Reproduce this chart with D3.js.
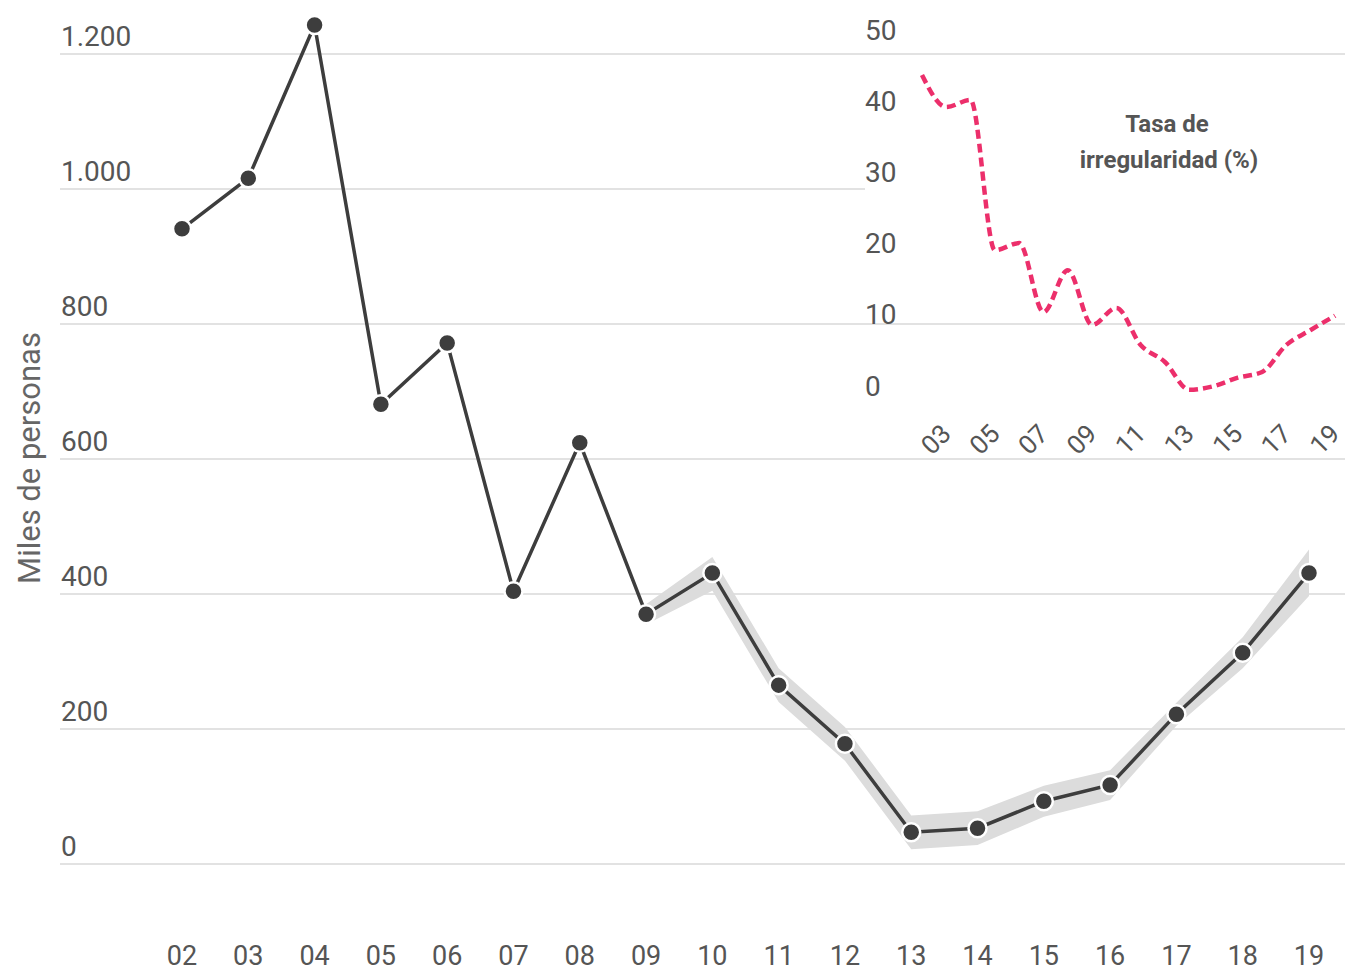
<!DOCTYPE html>
<html>
<head>
<meta charset="utf-8">
<script src="https://cdn.jsdelivr.net/npm/d3@7"></script>
<style>
  body { margin: 0; background: #fff; }
  text { font-family: Roboto, "Noto Sans", sans-serif; }
</style>
</head>
<body>
<div id="chart"></div>
<script>
// years shown on the main chart
const years = ["02","03","04","05","06","07","08","09","10","11","12","13","14","15","16","17","18","19"];
// irregular residents, thousands
const personas = [941, 1016, 1243, 681, 772, 404, 624, 370, 431, 265, 178, 47, 53, 93, 117, 222, 313, 431];
// uncertainty band (from 2009 on)
const bandYears = ["09","10","11","12","13","14","15","16","17","18","19"];
const bandLow  = [355, 405, 240, 153, 22, 28, 70, 95, 205, 290, 397];
const bandHigh = [385, 455, 290, 203, 72, 78, 116, 139, 239, 336, 466];
// irregularity rate (%)
const tasa = [46.2, 41.7, 42.7, 21.6, 22.6, 12.9, 18.8, 11.1, 13.5, 8.3, 5.9, 2.0, 2.5, 3.7, 4.5, 8.3, 10.4, 12.4];
const yTicks = [0, 200, 400, 600, 800, 1000, 1200];
const insetTicks = [0, 10, 20, 30, 40, 50];
const insetLabelYears = ["03","05","07","09","11","13","15","17","19"];

const W = 1345, H = 973;
const svg = d3.select("#chart").append("svg").attr("width", W).attr("height", H);

const fmt = d3.formatLocale({decimal: ",", thousands: ".", grouping: [3], currency: ["", "€"]}).format(",d");

const x = d3.scalePoint().domain(years).range([182, 1309]);
const y = d3.scaleLinear().domain([0, 1200]).range([864, 54]);

// gridlines
svg.append("g").selectAll("line").data(yTicks).enter().append("line")
  .attr("x1", 60).attr("x2", W)
  .attr("y1", d => y(d)).attr("y2", d => y(d))
  .attr("stroke", "#e2e2e2").attr("stroke-width", 2);

svg.append("g").selectAll("text").data(yTicks).enter().append("text")
  .attr("x", 61).attr("y", d => y(d) - 18)
  .attr("dominant-baseline", "central")
  .attr("font-size", 28).attr("fill", "#555")
  .text(d => fmt(d));

svg.append("text")
  .attr("transform", "translate(29,458) rotate(-90)")
  .attr("text-anchor", "middle").attr("dominant-baseline", "central")
  .attr("font-size", 31).attr("fill", "#666")
  .text("Miles de personas");

svg.append("g").selectAll("text").data(years).enter().append("text")
  .attr("x", d => x(d)).attr("y", 956)
  .attr("text-anchor", "middle").attr("dominant-baseline", "central")
  .attr("font-size", 27).attr("fill", "#555")
  .text(d => d);

// band
const bandData = bandYears.map((yr, i) => ({yr, lo: bandLow[i], hi: bandHigh[i]}));
svg.append("path").datum(bandData)
  .attr("fill", "#dcdcdc")
  .attr("d", d3.area().x(d => x(d.yr)).y0(d => y(d.lo)).y1(d => y(d.hi)));

// main line
const pts = years.map((yr, i) => ({yr, v: personas[i]}));
svg.append("path").datum(pts)
  .attr("fill", "none").attr("stroke", "#3d3d3d").attr("stroke-width", 3.5)
  .attr("d", d3.line().x(d => x(d.yr)).y(d => y(d.v)));

svg.append("g").selectAll("circle").data(pts).enter().append("circle")
  .attr("cx", d => x(d.yr)).attr("cy", d => y(d.v)).attr("r", 9)
  .attr("fill", "#3d3d3d").attr("stroke", "#fff").attr("stroke-width", 2.5);

// inset
const inset = svg.append("g");
inset.append("rect")
  .attr("x", 865).attr("y", y(1200) + 4)
  .attr("width", W - 865).attr("height", y(800) - y(1200) - 8)
  .attr("fill", "#fff");

const xi = d3.scalePoint().domain(years).range([922, 1335]);
const yi = d3.scaleLinear().domain([0, 50]).range([404, 48]);

inset.selectAll("text.yl").data(insetTicks).enter().append("text")
  .attr("class", "yl")
  .attr("x", 865).attr("y", d => yi(d) - 18)
  .attr("dominant-baseline", "central")
  .attr("font-size", 28).attr("fill", "#555")
  .text(d => d);

inset.selectAll("text.xl").data(insetLabelYears).enter().append("text")
  .attr("class", "xl")
  .attr("transform", d => `translate(${xi(d)},429) rotate(-45)`)
  .attr("text-anchor", "end").attr("dominant-baseline", "central")
  .attr("font-size", 26).attr("fill", "#555")
  .text(d => d);

inset.append("path").datum(years.map((yr, i) => ({yr, v: tasa[i]})))
  .attr("fill", "none").attr("stroke", "#ec2f6b").attr("stroke-width", 4.5)
  .attr("stroke-dasharray", "9,5")
  .attr("d", d3.line().curve(d3.curveMonotoneX).x(d => xi(d.yr)).y(d => yi(d.v)));

inset.append("text")
  .attr("x", 1167).attr("y", 124)
  .attr("text-anchor", "middle").attr("dominant-baseline", "central")
  .attr("font-size", 24).attr("font-weight", "bold").attr("fill", "#555")
  .text("Tasa de");
inset.append("text")
  .attr("x", 1169).attr("y", 160)
  .attr("text-anchor", "middle").attr("dominant-baseline", "central")
  .attr("font-size", 24).attr("font-weight", "bold").attr("fill", "#555")
  .text("irregularidad (%)");
</script>
</body>
</html>
